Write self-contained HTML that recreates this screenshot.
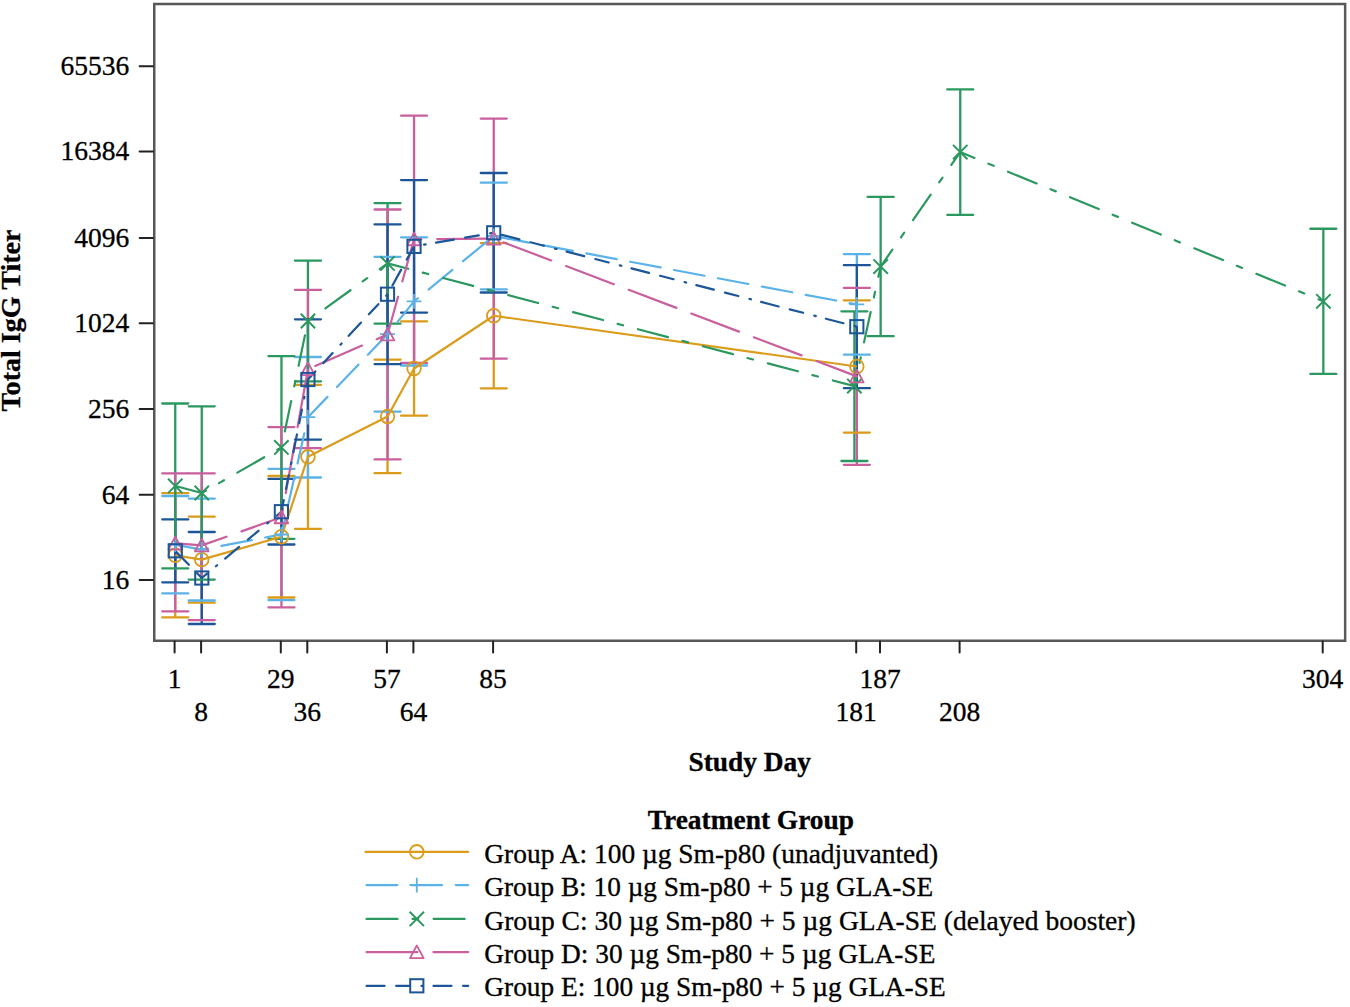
<!DOCTYPE html><html><head><meta charset="utf-8"><style>html,body{margin:0;padding:0;background:#fff;overflow:hidden;width:1350px;height:1007px;}svg{display:block;}text{font-family:"Liberation Serif",serif;fill:#000;stroke:#000;stroke-width:0.3px;}</style></head><body>
<svg width="1350" height="1007" viewBox="0 0 1350 1007">
<rect width="1350" height="1007" fill="#fff"/>
<path d="M154.25 2.9V641.9M153.1 4.1H1346.3M1345.15 2.9V641.9M153.1 640.75H1346.3" fill="none" stroke="#585858" stroke-width="2.5"/>
<line x1="139.6" y1="66.2" x2="153" y2="66.2" stroke="#222" stroke-width="2" stroke-linecap="round"/>
<text x="129.3" y="75.2" font-size="27.5" text-anchor="end">65536</text>
<line x1="139.6" y1="151.45" x2="153" y2="151.45" stroke="#222" stroke-width="2" stroke-linecap="round"/>
<text x="129.3" y="160.4" font-size="27.5" text-anchor="end">16384</text>
<line x1="139.6" y1="237.9" x2="153" y2="237.9" stroke="#222" stroke-width="2" stroke-linecap="round"/>
<text x="129.3" y="246.9" font-size="27.5" text-anchor="end">4096</text>
<line x1="139.6" y1="323.3" x2="153" y2="323.3" stroke="#222" stroke-width="2" stroke-linecap="round"/>
<text x="129.3" y="332.3" font-size="27.5" text-anchor="end">1024</text>
<line x1="139.6" y1="409.0" x2="153" y2="409.0" stroke="#222" stroke-width="2" stroke-linecap="round"/>
<text x="129.3" y="418.0" font-size="27.5" text-anchor="end">256</text>
<line x1="139.6" y1="494.8" x2="153" y2="494.8" stroke="#222" stroke-width="2" stroke-linecap="round"/>
<text x="129.3" y="503.8" font-size="27.5" text-anchor="end">64</text>
<line x1="139.6" y1="579.9" x2="153" y2="579.9" stroke="#222" stroke-width="2" stroke-linecap="round"/>
<text x="129.3" y="588.9" font-size="27.5" text-anchor="end">16</text>
<line x1="174.6" y1="641.5" x2="174.6" y2="652.6" stroke="#222" stroke-width="2" stroke-linecap="round"/>
<line x1="280.8" y1="641.5" x2="280.8" y2="652.6" stroke="#222" stroke-width="2" stroke-linecap="round"/>
<line x1="386.9" y1="641.5" x2="386.9" y2="652.6" stroke="#222" stroke-width="2" stroke-linecap="round"/>
<line x1="493.1" y1="641.5" x2="493.1" y2="652.6" stroke="#222" stroke-width="2" stroke-linecap="round"/>
<line x1="880.0" y1="641.5" x2="880.0" y2="652.6" stroke="#222" stroke-width="2" stroke-linecap="round"/>
<line x1="1322.7" y1="641.5" x2="1322.7" y2="652.6" stroke="#222" stroke-width="2" stroke-linecap="round"/>
<line x1="201.1" y1="641.5" x2="201.1" y2="652.6" stroke="#222" stroke-width="2" stroke-linecap="round"/>
<line x1="307.3" y1="641.5" x2="307.3" y2="652.6" stroke="#222" stroke-width="2" stroke-linecap="round"/>
<line x1="413.4" y1="641.5" x2="413.4" y2="652.6" stroke="#222" stroke-width="2" stroke-linecap="round"/>
<line x1="856.2" y1="641.5" x2="856.2" y2="652.6" stroke="#222" stroke-width="2" stroke-linecap="round"/>
<line x1="959.6" y1="641.5" x2="959.6" y2="652.6" stroke="#222" stroke-width="2" stroke-linecap="round"/>
<text x="174.6" y="688.0" font-size="27.5" text-anchor="middle">1</text>
<text x="280.8" y="688.0" font-size="27.5" text-anchor="middle">29</text>
<text x="386.9" y="688.0" font-size="27.5" text-anchor="middle">57</text>
<text x="493.1" y="688.0" font-size="27.5" text-anchor="middle">85</text>
<text x="880.0" y="688.0" font-size="27.5" text-anchor="middle">187</text>
<text x="1322.7" y="688.0" font-size="27.5" text-anchor="middle">304</text>
<text x="201.1" y="721.2" font-size="27.5" text-anchor="middle">8</text>
<text x="307.3" y="721.2" font-size="27.5" text-anchor="middle">36</text>
<text x="413.4" y="721.2" font-size="27.5" text-anchor="middle">64</text>
<text x="856.2" y="721.2" font-size="27.5" text-anchor="middle">181</text>
<text x="959.6" y="721.2" font-size="27.5" text-anchor="middle">208</text>
<text x="749.7" y="771.4" font-size="27.4" font-weight="bold" text-anchor="middle">Study Day</text>
<text transform="translate(20.0 320.5) rotate(-90)" x="0" y="0" font-size="28.1" font-weight="bold" text-anchor="middle">Total IgG Titer</text>
<path d="M175.25 555.30V493.20" stroke="#DB9C1C" stroke-width="2.3" fill="none"/>
<path d="M201.75 559.65V516.60" stroke="#DB9C1C" stroke-width="2.3" fill="none"/>
<path d="M281.45 536.75V476.00" stroke="#DB9C1C" stroke-width="2.3" fill="none"/>
<path d="M307.95 456.80V384.80" stroke="#DB9C1C" stroke-width="2.3" fill="none"/>
<path d="M387.55 416.45V359.70" stroke="#DB9C1C" stroke-width="2.3" fill="none"/>
<path d="M414.05 368.50V321.30" stroke="#DB9C1C" stroke-width="2.3" fill="none"/>
<path d="M493.75 315.75V243.20" stroke="#DB9C1C" stroke-width="2.3" fill="none"/>
<path d="M856.85 366.50V300.40" stroke="#DB9C1C" stroke-width="2.3" fill="none"/>
<path d="M175.25 544.70V496.00" stroke="#5AB2E8" stroke-width="2.3" fill="none"/>
<path d="M201.75 549.55V498.60" stroke="#5AB2E8" stroke-width="2.3" fill="none"/>
<path d="M281.45 534.45V468.80" stroke="#5AB2E8" stroke-width="2.3" fill="none"/>
<path d="M307.95 417.25V357.00" stroke="#5AB2E8" stroke-width="2.3" fill="none"/>
<path d="M387.55 334.20V256.80" stroke="#5AB2E8" stroke-width="2.3" fill="none"/>
<path d="M414.05 301.40V237.30" stroke="#5AB2E8" stroke-width="2.3" fill="none"/>
<path d="M493.75 236.00V182.70" stroke="#5AB2E8" stroke-width="2.3" fill="none"/>
<path d="M856.85 304.45V254.20" stroke="#5AB2E8" stroke-width="2.3" fill="none"/>
<path d="M175.25 485.95V403.50" stroke="#2B985F" stroke-width="2.3" fill="none"/>
<path d="M201.75 492.95V406.30" stroke="#2B985F" stroke-width="2.3" fill="none"/>
<path d="M281.45 447.45V356.10" stroke="#2B985F" stroke-width="2.3" fill="none"/>
<path d="M307.95 321.05V260.70" stroke="#2B985F" stroke-width="2.3" fill="none"/>
<path d="M387.55 263.35V203.10" stroke="#2B985F" stroke-width="2.3" fill="none"/>
<path d="M854.40 386.15V311.30" stroke="#2B985F" stroke-width="2.3" fill="none"/>
<path d="M880.65 266.55V196.90" stroke="#2B985F" stroke-width="2.3" fill="none"/>
<path d="M960.25 152.10V89.40" stroke="#2B985F" stroke-width="2.3" fill="none"/>
<path d="M1323.35 301.32V228.75" stroke="#2B985F" stroke-width="2.3" fill="none"/>
<path d="M175.25 542.35V473.30" stroke="#C95F9D" stroke-width="2.3" fill="none"/>
<path d="M201.75 546.70V473.30" stroke="#C95F9D" stroke-width="2.3" fill="none"/>
<path d="M281.45 517.25V427.10" stroke="#C95F9D" stroke-width="2.3" fill="none"/>
<path d="M307.95 369.05V289.90" stroke="#C95F9D" stroke-width="2.3" fill="none"/>
<path d="M387.55 334.45V209.50" stroke="#C95F9D" stroke-width="2.3" fill="none"/>
<path d="M414.05 239.25V115.60" stroke="#C95F9D" stroke-width="2.3" fill="none"/>
<path d="M493.75 238.65V118.60" stroke="#C95F9D" stroke-width="2.3" fill="none"/>
<path d="M856.85 376.35V287.90" stroke="#C95F9D" stroke-width="2.3" fill="none"/>
<path d="M175.25 550.85V519.40" stroke="#1D5698" stroke-width="2.3" fill="none"/>
<path d="M201.75 578.00V532.00" stroke="#1D5698" stroke-width="2.3" fill="none"/>
<path d="M281.45 511.70V478.90" stroke="#1D5698" stroke-width="2.3" fill="none"/>
<path d="M307.95 379.45V319.30" stroke="#1D5698" stroke-width="2.3" fill="none"/>
<path d="M387.55 294.25V224.40" stroke="#1D5698" stroke-width="2.3" fill="none"/>
<path d="M414.05 246.35V180.10" stroke="#1D5698" stroke-width="2.3" fill="none"/>
<path d="M493.75 232.75V173.00" stroke="#1D5698" stroke-width="2.3" fill="none"/>
<path d="M856.85 326.70V265.20" stroke="#1D5698" stroke-width="2.3" fill="none"/>
<path d="M162.25 493.20H188.25" stroke="#DB9C1C" stroke-width="2.3" stroke-linecap="round" fill="none"/>
<path d="M188.75 516.60H214.75" stroke="#DB9C1C" stroke-width="2.3" stroke-linecap="round" fill="none"/>
<path d="M268.45 476.00H294.45" stroke="#DB9C1C" stroke-width="2.3" stroke-linecap="round" fill="none"/>
<path d="M294.95 384.80H320.95" stroke="#DB9C1C" stroke-width="2.3" stroke-linecap="round" fill="none"/>
<path d="M374.55 359.70H400.55" stroke="#DB9C1C" stroke-width="2.3" stroke-linecap="round" fill="none"/>
<path d="M401.05 321.30H427.05" stroke="#DB9C1C" stroke-width="2.3" stroke-linecap="round" fill="none"/>
<path d="M480.75 243.20H506.75" stroke="#DB9C1C" stroke-width="2.3" stroke-linecap="round" fill="none"/>
<path d="M843.85 300.40H869.85" stroke="#DB9C1C" stroke-width="2.3" stroke-linecap="round" fill="none"/>
<path d="M162.25 496.00H188.25" stroke="#5AB2E8" stroke-width="2.3" stroke-linecap="round" fill="none"/>
<path d="M188.75 498.60H214.75" stroke="#5AB2E8" stroke-width="2.3" stroke-linecap="round" fill="none"/>
<path d="M268.45 468.80H294.45" stroke="#5AB2E8" stroke-width="2.3" stroke-linecap="round" fill="none"/>
<path d="M294.95 357.00H320.95" stroke="#5AB2E8" stroke-width="2.3" stroke-linecap="round" fill="none"/>
<path d="M374.55 256.80H400.55" stroke="#5AB2E8" stroke-width="2.3" stroke-linecap="round" fill="none"/>
<path d="M401.05 237.30H427.05" stroke="#5AB2E8" stroke-width="2.3" stroke-linecap="round" fill="none"/>
<path d="M480.75 182.70H506.75" stroke="#5AB2E8" stroke-width="2.3" stroke-linecap="round" fill="none"/>
<path d="M843.85 254.20H869.85" stroke="#5AB2E8" stroke-width="2.3" stroke-linecap="round" fill="none"/>
<path d="M162.25 403.50H188.25" stroke="#2B985F" stroke-width="2.3" stroke-linecap="round" fill="none"/>
<path d="M188.75 406.30H214.75" stroke="#2B985F" stroke-width="2.3" stroke-linecap="round" fill="none"/>
<path d="M268.45 356.10H294.45" stroke="#2B985F" stroke-width="2.3" stroke-linecap="round" fill="none"/>
<path d="M294.95 260.70H320.95" stroke="#2B985F" stroke-width="2.3" stroke-linecap="round" fill="none"/>
<path d="M374.55 203.10H400.55" stroke="#2B985F" stroke-width="2.3" stroke-linecap="round" fill="none"/>
<path d="M841.40 311.30H867.40" stroke="#2B985F" stroke-width="2.3" stroke-linecap="round" fill="none"/>
<path d="M867.65 196.90H893.65" stroke="#2B985F" stroke-width="2.3" stroke-linecap="round" fill="none"/>
<path d="M947.25 89.40H973.25" stroke="#2B985F" stroke-width="2.3" stroke-linecap="round" fill="none"/>
<path d="M1310.35 228.75H1336.35" stroke="#2B985F" stroke-width="2.3" stroke-linecap="round" fill="none"/>
<path d="M162.25 473.30H188.25" stroke="#C95F9D" stroke-width="2.3" stroke-linecap="round" fill="none"/>
<path d="M188.75 473.30H214.75" stroke="#C95F9D" stroke-width="2.3" stroke-linecap="round" fill="none"/>
<path d="M268.45 427.10H294.45" stroke="#C95F9D" stroke-width="2.3" stroke-linecap="round" fill="none"/>
<path d="M294.95 289.90H320.95" stroke="#C95F9D" stroke-width="2.3" stroke-linecap="round" fill="none"/>
<path d="M374.55 209.50H400.55" stroke="#C95F9D" stroke-width="2.3" stroke-linecap="round" fill="none"/>
<path d="M401.05 115.60H427.05" stroke="#C95F9D" stroke-width="2.3" stroke-linecap="round" fill="none"/>
<path d="M480.75 118.60H506.75" stroke="#C95F9D" stroke-width="2.3" stroke-linecap="round" fill="none"/>
<path d="M843.85 287.90H869.85" stroke="#C95F9D" stroke-width="2.3" stroke-linecap="round" fill="none"/>
<path d="M162.25 519.40H188.25" stroke="#1D5698" stroke-width="2.3" stroke-linecap="round" fill="none"/>
<path d="M188.75 532.00H214.75" stroke="#1D5698" stroke-width="2.3" stroke-linecap="round" fill="none"/>
<path d="M268.45 478.90H294.45" stroke="#1D5698" stroke-width="2.3" stroke-linecap="round" fill="none"/>
<path d="M294.95 319.30H320.95" stroke="#1D5698" stroke-width="2.3" stroke-linecap="round" fill="none"/>
<path d="M374.55 224.40H400.55" stroke="#1D5698" stroke-width="2.3" stroke-linecap="round" fill="none"/>
<path d="M401.05 180.10H427.05" stroke="#1D5698" stroke-width="2.3" stroke-linecap="round" fill="none"/>
<path d="M480.75 173.00H506.75" stroke="#1D5698" stroke-width="2.3" stroke-linecap="round" fill="none"/>
<path d="M843.85 265.20H869.85" stroke="#1D5698" stroke-width="2.3" stroke-linecap="round" fill="none"/>
<path d="M175.25 555.30V617.40" stroke="#DB9C1C" stroke-width="2.3" fill="none"/>
<path d="M201.75 559.65V602.70" stroke="#DB9C1C" stroke-width="2.3" fill="none"/>
<path d="M281.45 536.75V597.50" stroke="#DB9C1C" stroke-width="2.3" fill="none"/>
<path d="M307.95 456.80V528.80" stroke="#DB9C1C" stroke-width="2.3" fill="none"/>
<path d="M387.55 416.45V473.20" stroke="#DB9C1C" stroke-width="2.3" fill="none"/>
<path d="M414.05 368.50V415.70" stroke="#DB9C1C" stroke-width="2.3" fill="none"/>
<path d="M493.75 315.75V388.30" stroke="#DB9C1C" stroke-width="2.3" fill="none"/>
<path d="M856.85 366.50V432.60" stroke="#DB9C1C" stroke-width="2.3" fill="none"/>
<path d="M175.25 544.70V593.40" stroke="#5AB2E8" stroke-width="2.3" fill="none"/>
<path d="M201.75 549.55V600.50" stroke="#5AB2E8" stroke-width="2.3" fill="none"/>
<path d="M281.45 534.45V600.10" stroke="#5AB2E8" stroke-width="2.3" fill="none"/>
<path d="M307.95 417.25V477.50" stroke="#5AB2E8" stroke-width="2.3" fill="none"/>
<path d="M387.55 334.20V411.60" stroke="#5AB2E8" stroke-width="2.3" fill="none"/>
<path d="M414.05 301.40V365.50" stroke="#5AB2E8" stroke-width="2.3" fill="none"/>
<path d="M493.75 236.00V289.30" stroke="#5AB2E8" stroke-width="2.3" fill="none"/>
<path d="M856.85 304.45V354.70" stroke="#5AB2E8" stroke-width="2.3" fill="none"/>
<path d="M175.25 485.95V568.40" stroke="#2B985F" stroke-width="2.3" fill="none"/>
<path d="M201.75 492.95V579.60" stroke="#2B985F" stroke-width="2.3" fill="none"/>
<path d="M281.45 447.45V538.80" stroke="#2B985F" stroke-width="2.3" fill="none"/>
<path d="M307.95 321.05V381.40" stroke="#2B985F" stroke-width="2.3" fill="none"/>
<path d="M387.55 263.35V323.60" stroke="#2B985F" stroke-width="2.3" fill="none"/>
<path d="M854.40 386.15V461.00" stroke="#2B985F" stroke-width="2.3" fill="none"/>
<path d="M880.65 266.55V336.20" stroke="#2B985F" stroke-width="2.3" fill="none"/>
<path d="M960.25 152.10V214.80" stroke="#2B985F" stroke-width="2.3" fill="none"/>
<path d="M1323.35 301.32V373.90" stroke="#2B985F" stroke-width="2.3" fill="none"/>
<path d="M175.25 542.35V611.40" stroke="#C95F9D" stroke-width="2.3" fill="none"/>
<path d="M201.75 546.70V620.10" stroke="#C95F9D" stroke-width="2.3" fill="none"/>
<path d="M281.45 517.25V607.40" stroke="#C95F9D" stroke-width="2.3" fill="none"/>
<path d="M307.95 369.05V448.20" stroke="#C95F9D" stroke-width="2.3" fill="none"/>
<path d="M387.55 334.45V459.40" stroke="#C95F9D" stroke-width="2.3" fill="none"/>
<path d="M414.05 239.25V362.90" stroke="#C95F9D" stroke-width="2.3" fill="none"/>
<path d="M493.75 238.65V358.70" stroke="#C95F9D" stroke-width="2.3" fill="none"/>
<path d="M856.85 376.35V464.80" stroke="#C95F9D" stroke-width="2.3" fill="none"/>
<path d="M175.25 550.85V582.30" stroke="#1D5698" stroke-width="2.3" fill="none"/>
<path d="M201.75 578.00V624.00" stroke="#1D5698" stroke-width="2.3" fill="none"/>
<path d="M281.45 511.70V544.50" stroke="#1D5698" stroke-width="2.3" fill="none"/>
<path d="M307.95 379.45V439.60" stroke="#1D5698" stroke-width="2.3" fill="none"/>
<path d="M387.55 294.25V364.10" stroke="#1D5698" stroke-width="2.3" fill="none"/>
<path d="M414.05 246.35V312.60" stroke="#1D5698" stroke-width="2.3" fill="none"/>
<path d="M493.75 232.75V292.50" stroke="#1D5698" stroke-width="2.3" fill="none"/>
<path d="M856.85 326.70V388.20" stroke="#1D5698" stroke-width="2.3" fill="none"/>
<path d="M162.25 617.40H188.25" stroke="#DB9C1C" stroke-width="2.3" stroke-linecap="round" fill="none"/>
<path d="M188.75 602.70H214.75" stroke="#DB9C1C" stroke-width="2.3" stroke-linecap="round" fill="none"/>
<path d="M268.45 597.50H294.45" stroke="#DB9C1C" stroke-width="2.3" stroke-linecap="round" fill="none"/>
<path d="M294.95 528.80H320.95" stroke="#DB9C1C" stroke-width="2.3" stroke-linecap="round" fill="none"/>
<path d="M374.55 473.20H400.55" stroke="#DB9C1C" stroke-width="2.3" stroke-linecap="round" fill="none"/>
<path d="M401.05 415.70H427.05" stroke="#DB9C1C" stroke-width="2.3" stroke-linecap="round" fill="none"/>
<path d="M480.75 388.30H506.75" stroke="#DB9C1C" stroke-width="2.3" stroke-linecap="round" fill="none"/>
<path d="M843.85 432.60H869.85" stroke="#DB9C1C" stroke-width="2.3" stroke-linecap="round" fill="none"/>
<path d="M162.25 593.40H188.25" stroke="#5AB2E8" stroke-width="2.3" stroke-linecap="round" fill="none"/>
<path d="M188.75 600.50H214.75" stroke="#5AB2E8" stroke-width="2.3" stroke-linecap="round" fill="none"/>
<path d="M268.45 600.10H294.45" stroke="#5AB2E8" stroke-width="2.3" stroke-linecap="round" fill="none"/>
<path d="M294.95 477.50H320.95" stroke="#5AB2E8" stroke-width="2.3" stroke-linecap="round" fill="none"/>
<path d="M374.55 411.60H400.55" stroke="#5AB2E8" stroke-width="2.3" stroke-linecap="round" fill="none"/>
<path d="M401.05 365.50H427.05" stroke="#5AB2E8" stroke-width="2.3" stroke-linecap="round" fill="none"/>
<path d="M480.75 289.30H506.75" stroke="#5AB2E8" stroke-width="2.3" stroke-linecap="round" fill="none"/>
<path d="M843.85 354.70H869.85" stroke="#5AB2E8" stroke-width="2.3" stroke-linecap="round" fill="none"/>
<path d="M162.25 568.40H188.25" stroke="#2B985F" stroke-width="2.3" stroke-linecap="round" fill="none"/>
<path d="M188.75 579.60H214.75" stroke="#2B985F" stroke-width="2.3" stroke-linecap="round" fill="none"/>
<path d="M268.45 538.80H294.45" stroke="#2B985F" stroke-width="2.3" stroke-linecap="round" fill="none"/>
<path d="M294.95 381.40H320.95" stroke="#2B985F" stroke-width="2.3" stroke-linecap="round" fill="none"/>
<path d="M374.55 323.60H400.55" stroke="#2B985F" stroke-width="2.3" stroke-linecap="round" fill="none"/>
<path d="M841.40 461.00H867.40" stroke="#2B985F" stroke-width="2.3" stroke-linecap="round" fill="none"/>
<path d="M867.65 336.20H893.65" stroke="#2B985F" stroke-width="2.3" stroke-linecap="round" fill="none"/>
<path d="M947.25 214.80H973.25" stroke="#2B985F" stroke-width="2.3" stroke-linecap="round" fill="none"/>
<path d="M1310.35 373.90H1336.35" stroke="#2B985F" stroke-width="2.3" stroke-linecap="round" fill="none"/>
<path d="M162.25 611.40H188.25" stroke="#C95F9D" stroke-width="2.3" stroke-linecap="round" fill="none"/>
<path d="M188.75 620.10H214.75" stroke="#C95F9D" stroke-width="2.3" stroke-linecap="round" fill="none"/>
<path d="M268.45 607.40H294.45" stroke="#C95F9D" stroke-width="2.3" stroke-linecap="round" fill="none"/>
<path d="M294.95 448.20H320.95" stroke="#C95F9D" stroke-width="2.3" stroke-linecap="round" fill="none"/>
<path d="M374.55 459.40H400.55" stroke="#C95F9D" stroke-width="2.3" stroke-linecap="round" fill="none"/>
<path d="M401.05 362.90H427.05" stroke="#C95F9D" stroke-width="2.3" stroke-linecap="round" fill="none"/>
<path d="M480.75 358.70H506.75" stroke="#C95F9D" stroke-width="2.3" stroke-linecap="round" fill="none"/>
<path d="M843.85 464.80H869.85" stroke="#C95F9D" stroke-width="2.3" stroke-linecap="round" fill="none"/>
<path d="M162.25 582.30H188.25" stroke="#1D5698" stroke-width="2.3" stroke-linecap="round" fill="none"/>
<path d="M188.75 624.00H214.75" stroke="#1D5698" stroke-width="2.3" stroke-linecap="round" fill="none"/>
<path d="M268.45 544.50H294.45" stroke="#1D5698" stroke-width="2.3" stroke-linecap="round" fill="none"/>
<path d="M294.95 439.60H320.95" stroke="#1D5698" stroke-width="2.3" stroke-linecap="round" fill="none"/>
<path d="M374.55 364.10H400.55" stroke="#1D5698" stroke-width="2.3" stroke-linecap="round" fill="none"/>
<path d="M401.05 312.60H427.05" stroke="#1D5698" stroke-width="2.3" stroke-linecap="round" fill="none"/>
<path d="M480.75 292.50H506.75" stroke="#1D5698" stroke-width="2.3" stroke-linecap="round" fill="none"/>
<path d="M843.85 388.20H869.85" stroke="#1D5698" stroke-width="2.3" stroke-linecap="round" fill="none"/>
<polyline points="175.25,555.30 201.75,559.65 281.45,536.75 307.95,456.80 387.55,416.45 414.05,368.50 493.75,315.75 856.85,366.50" fill="none" stroke="#DB9C1C" stroke-width="2.2" stroke-linejoin="round"/>
<polyline points="175.25,544.70 201.75,549.55 281.45,534.45 307.95,417.25 387.55,334.20 414.05,301.40 493.75,236.00 856.85,304.45" fill="none" stroke="#5AB2E8" stroke-width="2.2" stroke-dasharray="30.9 13.75" stroke-dashoffset="42.37" stroke-linecap="round" stroke-linejoin="round"/>
<polyline points="175.25,485.95 201.75,492.95 281.45,447.45 307.95,321.05 387.55,263.35 854.40,386.15 880.65,266.55 960.25,152.10 1323.35,301.32" fill="none" stroke="#2B985F" stroke-width="2.2" stroke-dasharray="31.0 15.05 5.7 15.4" stroke-dashoffset="65.92" stroke-linecap="round" stroke-linejoin="round"/>
<polyline points="175.25,543.30 201.75,545.40 281.45,517.25 307.95,369.05 387.55,334.45 414.05,239.25 493.75,238.65 856.85,376.35" fill="none" stroke="#C95F9D" stroke-width="2.2" stroke-dasharray="51.0 15.95" stroke-dashoffset="65.17" stroke-linecap="round" stroke-linejoin="round"/>
<polyline points="175.25,550.85 201.75,578.00 281.45,511.70 307.95,379.45 387.55,294.25 414.05,246.35 493.75,232.75 856.85,326.70" fill="none" stroke="#1D5698" stroke-width="2.2" stroke-dasharray="18.1 11.5 13.8 11.5 1.6 10.45" stroke-dashoffset="65.53" stroke-linecap="round" stroke-linejoin="round"/>
<circle cx="175.25" cy="555.30" r="6.8" fill="none" stroke="#DB9C1C" stroke-width="1.8"/>
<circle cx="201.75" cy="559.65" r="6.8" fill="none" stroke="#DB9C1C" stroke-width="1.8"/>
<circle cx="281.45" cy="536.75" r="6.8" fill="none" stroke="#DB9C1C" stroke-width="1.8"/>
<circle cx="307.95" cy="456.80" r="6.8" fill="none" stroke="#DB9C1C" stroke-width="1.8"/>
<circle cx="387.55" cy="416.45" r="6.8" fill="none" stroke="#DB9C1C" stroke-width="1.8"/>
<circle cx="414.05" cy="368.50" r="6.8" fill="none" stroke="#DB9C1C" stroke-width="1.8"/>
<circle cx="493.75" cy="315.75" r="6.8" fill="none" stroke="#DB9C1C" stroke-width="1.8"/>
<circle cx="856.85" cy="366.50" r="6.8" fill="none" stroke="#DB9C1C" stroke-width="1.8"/>
<path d="M167.8 544.7H182.7M175.2 537.3V552.1" stroke="#5AB2E8" stroke-width="1.8" fill="none"/>
<path d="M194.3 549.5H209.2M201.8 542.1V556.9" stroke="#5AB2E8" stroke-width="1.8" fill="none"/>
<path d="M274.1 534.5H288.8M281.4 527.1V541.9" stroke="#5AB2E8" stroke-width="1.8" fill="none"/>
<path d="M300.6 417.2H315.3M307.9 409.9V424.6" stroke="#5AB2E8" stroke-width="1.8" fill="none"/>
<path d="M380.1 334.2H394.9M387.5 326.8V341.6" stroke="#5AB2E8" stroke-width="1.8" fill="none"/>
<path d="M406.6 301.4H421.4M414.0 294.0V308.8" stroke="#5AB2E8" stroke-width="1.8" fill="none"/>
<path d="M486.4 236.0H501.1M493.8 228.6V243.4" stroke="#5AB2E8" stroke-width="1.8" fill="none"/>
<path d="M849.5 304.4H864.2M856.9 297.1V311.8" stroke="#5AB2E8" stroke-width="1.8" fill="none"/>
<path d="M168.1 478.8L182.4 493.1M168.1 493.1L182.4 478.8" stroke="#2B985F" stroke-width="2.0" fill="none"/>
<path d="M194.6 485.8L208.9 500.2M194.6 500.2L208.9 485.8" stroke="#2B985F" stroke-width="2.0" fill="none"/>
<path d="M274.2 440.2L288.6 454.6M274.2 454.6L288.6 440.2" stroke="#2B985F" stroke-width="2.0" fill="none"/>
<path d="M300.8 313.8L315.1 328.2M300.8 328.2L315.1 313.8" stroke="#2B985F" stroke-width="2.0" fill="none"/>
<path d="M380.3 256.2L394.7 270.6M380.3 270.6L394.7 256.2" stroke="#2B985F" stroke-width="2.0" fill="none"/>
<path d="M847.2 378.9L861.6 393.3M847.2 393.3L861.6 378.9" stroke="#2B985F" stroke-width="2.0" fill="none"/>
<path d="M873.4 259.4L887.9 273.8M873.4 273.8L887.9 259.4" stroke="#2B985F" stroke-width="2.0" fill="none"/>
<path d="M953.0 144.9L967.5 159.3M953.0 159.3L967.5 144.9" stroke="#2B985F" stroke-width="2.0" fill="none"/>
<path d="M1316.2 294.1L1330.6 308.5M1316.2 308.5L1330.6 294.1" stroke="#2B985F" stroke-width="2.0" fill="none"/>
<path d="M175.25 536.70L182.05 549.30H168.45Z" stroke="#C95F9D" stroke-width="1.8" fill="none" stroke-linejoin="round"/>
<path d="M201.75 538.80L208.55 551.40H194.95Z" stroke="#C95F9D" stroke-width="1.8" fill="none" stroke-linejoin="round"/>
<path d="M281.45 510.65L288.25 523.25H274.65Z" stroke="#C95F9D" stroke-width="1.8" fill="none" stroke-linejoin="round"/>
<path d="M307.95 362.45L314.75 375.05H301.15Z" stroke="#C95F9D" stroke-width="1.8" fill="none" stroke-linejoin="round"/>
<path d="M387.55 327.85L394.35 340.45H380.75Z" stroke="#C95F9D" stroke-width="1.8" fill="none" stroke-linejoin="round"/>
<path d="M414.05 232.65L420.85 245.25H407.25Z" stroke="#C95F9D" stroke-width="1.8" fill="none" stroke-linejoin="round"/>
<path d="M493.75 232.05L500.55 244.65H486.95Z" stroke="#C95F9D" stroke-width="1.8" fill="none" stroke-linejoin="round"/>
<path d="M856.85 369.75L863.65 382.35H850.05Z" stroke="#C95F9D" stroke-width="1.8" fill="none" stroke-linejoin="round"/>
<rect x="168.7" y="544.2" width="13.2" height="13.2" stroke="#1D5698" stroke-width="2.0" fill="none"/>
<rect x="195.2" y="571.4" width="13.2" height="13.2" stroke="#1D5698" stroke-width="2.0" fill="none"/>
<rect x="274.8" y="505.1" width="13.2" height="13.2" stroke="#1D5698" stroke-width="2.0" fill="none"/>
<rect x="301.3" y="372.9" width="13.2" height="13.2" stroke="#1D5698" stroke-width="2.0" fill="none"/>
<rect x="380.9" y="287.6" width="13.2" height="13.2" stroke="#1D5698" stroke-width="2.0" fill="none"/>
<rect x="407.4" y="239.8" width="13.2" height="13.2" stroke="#1D5698" stroke-width="2.0" fill="none"/>
<rect x="487.1" y="226.2" width="13.2" height="13.2" stroke="#1D5698" stroke-width="2.0" fill="none"/>
<rect x="850.2" y="320.1" width="13.2" height="13.2" stroke="#1D5698" stroke-width="2.0" fill="none"/>
<text x="750.9" y="828.7" font-size="27.4" font-weight="bold" text-anchor="middle">Treatment Group</text>
<line x1="365.5" y1="851.8" x2="468.2" y2="851.8" stroke="#DB9C1C" stroke-width="2.2" stroke-linecap="round"/>
<circle cx="416.80" cy="851.80" r="6.8" fill="none" stroke="#DB9C1C" stroke-width="1.8"/>
<text x="484.3" y="862.8" font-size="27" textLength="453.8" lengthAdjust="spacingAndGlyphs">Group A: 100 µg Sm-p80 (unadjuvanted)</text>
<line x1="365.5" y1="885.1" x2="468.2" y2="885.1" stroke="#5AB2E8" stroke-width="2.2" stroke-linecap="round" stroke-dasharray="30.9 13.75" stroke-dashoffset="-1"/>
<path d="M409.4 885.1H424.2M416.8 877.7V892.5" stroke="#5AB2E8" stroke-width="1.8" fill="none"/>
<text x="484.3" y="896.2" font-size="27" textLength="448.8" lengthAdjust="spacingAndGlyphs">Group B: 10 µg Sm-p80 + 5 µg GLA-SE</text>
<line x1="365.5" y1="918.9" x2="468.2" y2="918.9" stroke="#2B985F" stroke-width="2.2" stroke-linecap="round" stroke-dasharray="31.0 15.05 5.7 15.4" stroke-dashoffset="-1"/>
<path d="M409.6 911.7L424.0 926.1M409.6 926.1L424.0 911.7" stroke="#2B985F" stroke-width="2.0" fill="none"/>
<text x="484.3" y="929.5" font-size="27" textLength="651.3" lengthAdjust="spacingAndGlyphs">Group C: 30 µg Sm-p80 + 5 µg GLA-SE (delayed booster)</text>
<line x1="365.5" y1="952.1" x2="468.2" y2="952.1" stroke="#C95F9D" stroke-width="2.2" stroke-linecap="round" stroke-dasharray="51.0 15.95" stroke-dashoffset="-1"/>
<path d="M416.80 945.50L423.60 958.10H410.00Z" stroke="#C95F9D" stroke-width="1.8" fill="none" stroke-linejoin="round"/>
<text x="484.3" y="962.7" font-size="27" textLength="451.1" lengthAdjust="spacingAndGlyphs">Group D: 30 µg Sm-p80 + 5 µg GLA-SE</text>
<line x1="365.5" y1="985.8" x2="468.2" y2="985.8" stroke="#1D5698" stroke-width="2.2" stroke-linecap="round" stroke-dasharray="18.1 11.5 13.8 11.5 1.6 10.45" stroke-dashoffset="-1"/>
<rect x="410.2" y="979.2" width="13.2" height="13.2" stroke="#1D5698" stroke-width="2.0" fill="none"/>
<text x="484.3" y="995.8" font-size="27" textLength="461.3" lengthAdjust="spacingAndGlyphs">Group E: 100 µg Sm-p80 + 5 µg GLA-SE</text>
</svg></body></html>
